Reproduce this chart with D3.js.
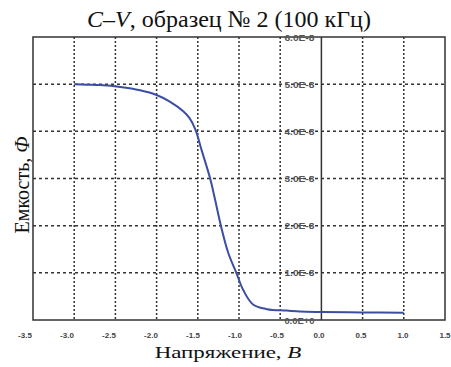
<!DOCTYPE html>
<html>
<head>
<meta charset="utf-8">
<script src="https://cdn.jsdelivr.net/npm/d3@7"></script>
<style>
  body { margin: 0; background: #fff; }
  svg { display: block; }
</style>
</head>
<body>
<div id="chart-area"></div>
<script>
// C-V curve, sample 2, 100 kHz
var voltage = [-3.0, -2.85, -2.69, -2.44, -2.2, -2.0, -1.84, -1.68, -1.6, -1.53, -1.45, -1.35,
               -1.29, -1.22, -1.13, -1.03, -0.95, -0.83, -0.66, -0.42, -0.26, 0.0, 0.5, 1.0];
var capacitance = [5.00e-8, 4.99e-8, 4.98e-8, 4.94e-8, 4.87e-8, 4.77e-8, 4.63e-8, 4.43e-8, 4.28e-8,
                   4.04e-8, 3.58e-8, 3.0e-8, 2.55e-8, 2.0e-8, 1.42e-8, 0.99e-8, 0.64e-8, 0.33e-8,
                   0.23e-8, 0.20e-8, 0.18e-8, 0.17e-8, 0.16e-8, 0.155e-8];
var xTicks = [-3.5, -3.0, -2.5, -2.0, -1.5, -1.0, -0.5, 0.0, 0.5, 1.0, 1.5];
var xTickLabels = ['-3.5', '-3.0', '-2.5', '-2.0', '-1.5', '-1.0', '-0.5', '0.0', '0.5', '1.0', '1.5'];
var yTicks = [0, 1e-8, 2e-8, 3e-8, 4e-8, 5e-8, 6e-8];
var yTickLabels = ['0.0E+0', '1.0E-8', '2.0E-8', '3.0E-8', '4.0E-8', '5.0E-8', '6.0E-8'];

var data = voltage.map(function(v, i) { return { v: v, c: capacitance[i] }; });

var margin = { left: 33, right: 6, top: 37, bottom: 47 };
var width = 451 - margin.left - margin.right,
    height = 367 - margin.top - margin.bottom;

var svg = d3.select('#chart-area')
    .append('svg')
    .attr('width', 451)
    .attr('height', 367);

var g = svg.append('g')
    .attr('transform', 'translate(' + margin.left + ', ' + margin.top + ')');

var xScale = d3.scaleLinear().domain([-3.5, 1.5]).range([0, width]);
var yScale = d3.scaleLinear().domain([0, 6e-8]).range([height, 0]);
// tick labels in the original sit slightly off the grid
var xLabelScale = d3.scaleLinear().domain([-3.5, 1.5]).range([25 - margin.left, 445 - margin.left]);

var gridColor = '#333';

// vertical grid
g.selectAll('.vgrid')
    .data(xTicks.filter(function(d) { return d > -3.5 && d < 1.5 && d !== 0; }))
    .enter().append('line')
    .attr('x1', function(d) { return xScale(d); })
    .attr('x2', function(d) { return xScale(d); })
    .attr('y1', 0).attr('y2', height)
    .attr('stroke', gridColor)
    .attr('stroke-width', 1.5)
    .attr('stroke-dasharray', '2,2');

// horizontal grid
g.selectAll('.hgrid')
    .data(yTicks.filter(function(d) { return d > 0 && d < 6e-8; }))
    .enter().append('line')
    .attr('x1', 0).attr('x2', width)
    .attr('y1', function(d) { return yScale(d); })
    .attr('y2', function(d) { return yScale(d); })
    .attr('stroke', gridColor)
    .attr('stroke-width', 1.5)
    .attr('stroke-dasharray', '3,3');

// zero axis line
g.append('line')
    .attr('x1', xScale(0)).attr('x2', xScale(0))
    .attr('y1', 0).attr('y2', height)
    .attr('stroke', gridColor)
    .attr('stroke-width', 1.5);

// frame
g.append('rect')
    .attr('x', 0).attr('y', 0)
    .attr('width', width).attr('height', height)
    .attr('fill', 'none')
    .attr('stroke', gridColor)
    .attr('stroke-width', 1.5);

// y tick labels next to the zero line
g.selectAll('.ylab')
    .data(yTicks)
    .enter().append('text')
    .attr('x', xScale(0) - 37)
    .attr('y', function(d) { return yScale(d) + 3.5; })
    .attr('textLength', 30)
    .attr('lengthAdjust', 'spacingAndGlyphs')
    .attr('font-family', 'Liberation Sans, Arial, sans-serif')
    .attr('font-weight', 'bold')
    .attr('font-size', '9px')
    .attr('fill', '#555')
    .text(function(d, i) { return yTickLabels[i]; });

// x tick labels
g.selectAll('.xlab')
    .data(xTicks)
    .enter().append('text')
    .attr('x', function(d) { return xLabelScale(d); })
    .attr('y', height + 18)
    .attr('text-anchor', 'middle')
    .attr('font-family', 'Liberation Sans, Arial, sans-serif')
    .attr('font-weight', 'bold')
    .attr('font-size', '8px')
    .attr('fill', '#444')
    .text(function(d, i) { return xTickLabels[i]; });

// curve
var line = d3.line()
    .x(function(d) { return xScale(d.v); })
    .y(function(d) { return yScale(d.c); })
    .curve(d3.curveCatmullRom);

g.append('path')
    .datum(data)
    .attr('d', line)
    .attr('fill', 'none')
    .attr('stroke', '#3b4ea3')
    .attr('stroke-width', 2);

// title
var title = svg.append('text')
    .attr('x', 229)
    .attr('y', 27)
    .attr('text-anchor', 'middle')
    .attr('font-family', 'Liberation Serif, Times New Roman, serif')
    .attr('font-size', '24px')
    .attr('fill', '#111');
title.append('tspan').attr('font-style', 'italic').text('C');
title.append('tspan').text('–');
title.append('tspan').attr('font-style', 'italic').text('V');
title.append('tspan').text(', образец № 2 (100 кГц)');

// x label (the original is stretched sideways)
var xLabel = svg.append('text')
    .attr('transform', 'translate(228, 358) scale(1.35, 1)')
    .attr('text-anchor', 'middle')
    .attr('font-family', 'Liberation Serif, Times New Roman, serif')
    .attr('font-size', '17px')
    .attr('fill', '#111');
xLabel.append('tspan').text('Напряжение, ');
xLabel.append('tspan').attr('font-style', 'italic').text('В');

// y label
var yLabel = svg.append('text')
    .attr('transform', 'translate(29, 185) rotate(-90)')
    .attr('text-anchor', 'middle')
    .attr('font-family', 'Liberation Serif, Times New Roman, serif')
    .attr('font-size', '20px')
    .attr('fill', '#111');
yLabel.append('tspan').text('Емкость, ');
yLabel.append('tspan').attr('font-style', 'italic').text('Ф');
</script>
</body>
</html>
